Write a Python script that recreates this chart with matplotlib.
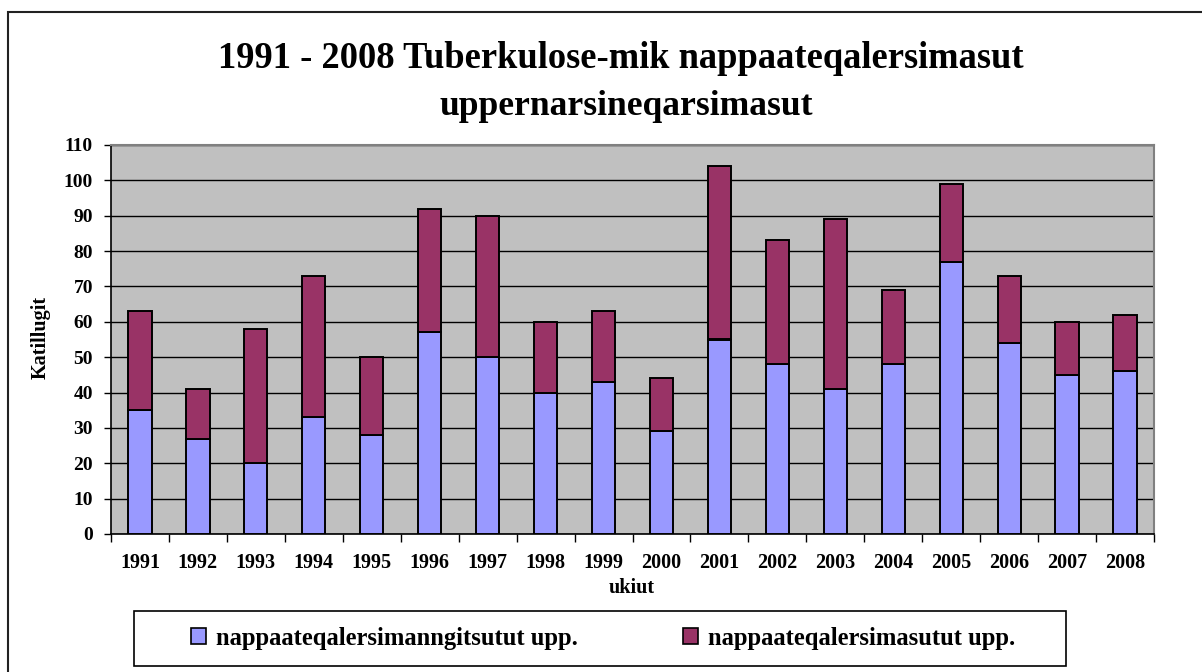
import matplotlib
matplotlib.use("Agg")
import matplotlib.pyplot as plt
from matplotlib.patches import Rectangle, Patch
import numpy as np

years = ["1991", "1992", "1993", "1994", "1995", "1996", "1997", "1998", "1999",
         "2000", "2001", "2002", "2003", "2004", "2005", "2006", "2007", "2008"]
not_recovered = [35, 27, 20, 33, 28, 57, 50, 40, 43, 29, 55, 48, 41, 48, 77, 54, 45, 46]
recovered = [28, 14, 38, 40, 22, 35, 40, 20, 20, 15, 49, 35, 48, 21, 22, 19, 15, 16]
series_names = ["nappaateqalersimanngitsutut upp.", "nappaateqalersimasutut upp."]
title_lines = ["1991 - 2008 Tuberkulose-mik nappaateqalersimasut", "uppernarsineqarsimasut"]
y_label = "Katillugit"
x_label = "ukiut"
y_ticks = list(range(0, 111, 10))

W, H = 1202, 672
FONT = "Liberation Serif"
fig = plt.figure(figsize=(W / 100, H / 100), dpi=100)
fig.patch.set_facecolor("white")

# axes placement in pixel coordinates
L, R, T, B = 111, 1154, 145, 534
ax = fig.add_axes([L / W, 1 - B / H, (R - L) / W, (B - T) / H])
ax.set_facecolor("#C0C0C0")

x = np.arange(len(years))
c1, c2 = "#9999FF", "#993366"
ax.bar(x, not_recovered, width=0.4, color=c1, edgecolor="black", linewidth=1.4, zorder=3)
ax.bar(x, recovered, width=0.4, bottom=not_recovered, color=c2, edgecolor="black",
       linewidth=1.4, zorder=3)

ax.set_xlim(-0.5, len(years) - 0.5)
ax.set_ylim(0, 110)
ax.set_yticks(y_ticks)
ax.set_yticklabels([str(v) for v in y_ticks], fontfamily=FONT, fontweight="bold", fontsize=14)
ax.yaxis.grid(True, color="black", linewidth=1.0, zorder=1)
ax.set_axisbelow(True)

ax.set_xticks(x)
ax.set_xticklabels(years, fontfamily=FONT, fontweight="bold", fontsize=14.5)
ax.set_xticks(np.arange(-0.5, len(years), 1.0), minor=True)
ax.tick_params(axis="x", which="major", length=0, pad=14)
ax.tick_params(axis="x", which="minor", length=6, width=1, color="black", direction="out")
ax.tick_params(axis="y", which="major", length=5, width=1, color="black", direction="out", pad=8)

for s in ["top", "right"]:
    ax.spines[s].set_color("#808080")
    ax.spines[s].set_linewidth(1.5)
for s in ["left", "bottom"]:
    ax.spines[s].set_color("black")
    ax.spines[s].set_linewidth(1.2)

# titles and labels
fig.text(621 / W, 1 - 68 / H, title_lines[0], ha="center", va="baseline",
         fontfamily=FONT, fontweight="bold", fontsize=26.3)
fig.text(626 / W, 1 - 115 / H, title_lines[1], ha="center", va="baseline",
         fontfamily=FONT, fontweight="bold", fontsize=25.6)
fig.text(41 / W, 1 - 337 / H, y_label, rotation=90, ha="center", va="center",
         fontfamily=FONT, fontweight="bold", fontsize=14.5)
fig.text(632 / W, 1 - 588 / H, x_label, ha="center", va="center",
         fontfamily=FONT, fontweight="bold", fontsize=14.5)

# legend with manual frame
fig.add_artist(Rectangle((134 / W, 1 - 666 / H), (1066 - 134) / W, (666 - 611) / H,
                         transform=fig.transFigure, fill=False, edgecolor="black",
                         linewidth=1.2))
handles = [Patch(facecolor=c1, edgecolor="black", linewidth=1.2),
           Patch(facecolor=c2, edgecolor="black", linewidth=1.2)]
fig.legend(handles, series_names, loc="center", bbox_to_anchor=(603 / W, 1 - 638 / H),
           ncol=2, frameon=False, prop={"family": FONT, "weight": "bold", "size": 17.7},
           handlelength=0.6, handleheight=0.6, handletextpad=0.4, columnspacing=4.3)

# outer chart border
fig.add_artist(Rectangle((8 / W, -0.1), 1.2, 1.1 - 12 / H, transform=fig.transFigure,
                         fill=False, edgecolor="#222222", linewidth=1.5))

fig.savefig("out.png", dpi=100)
